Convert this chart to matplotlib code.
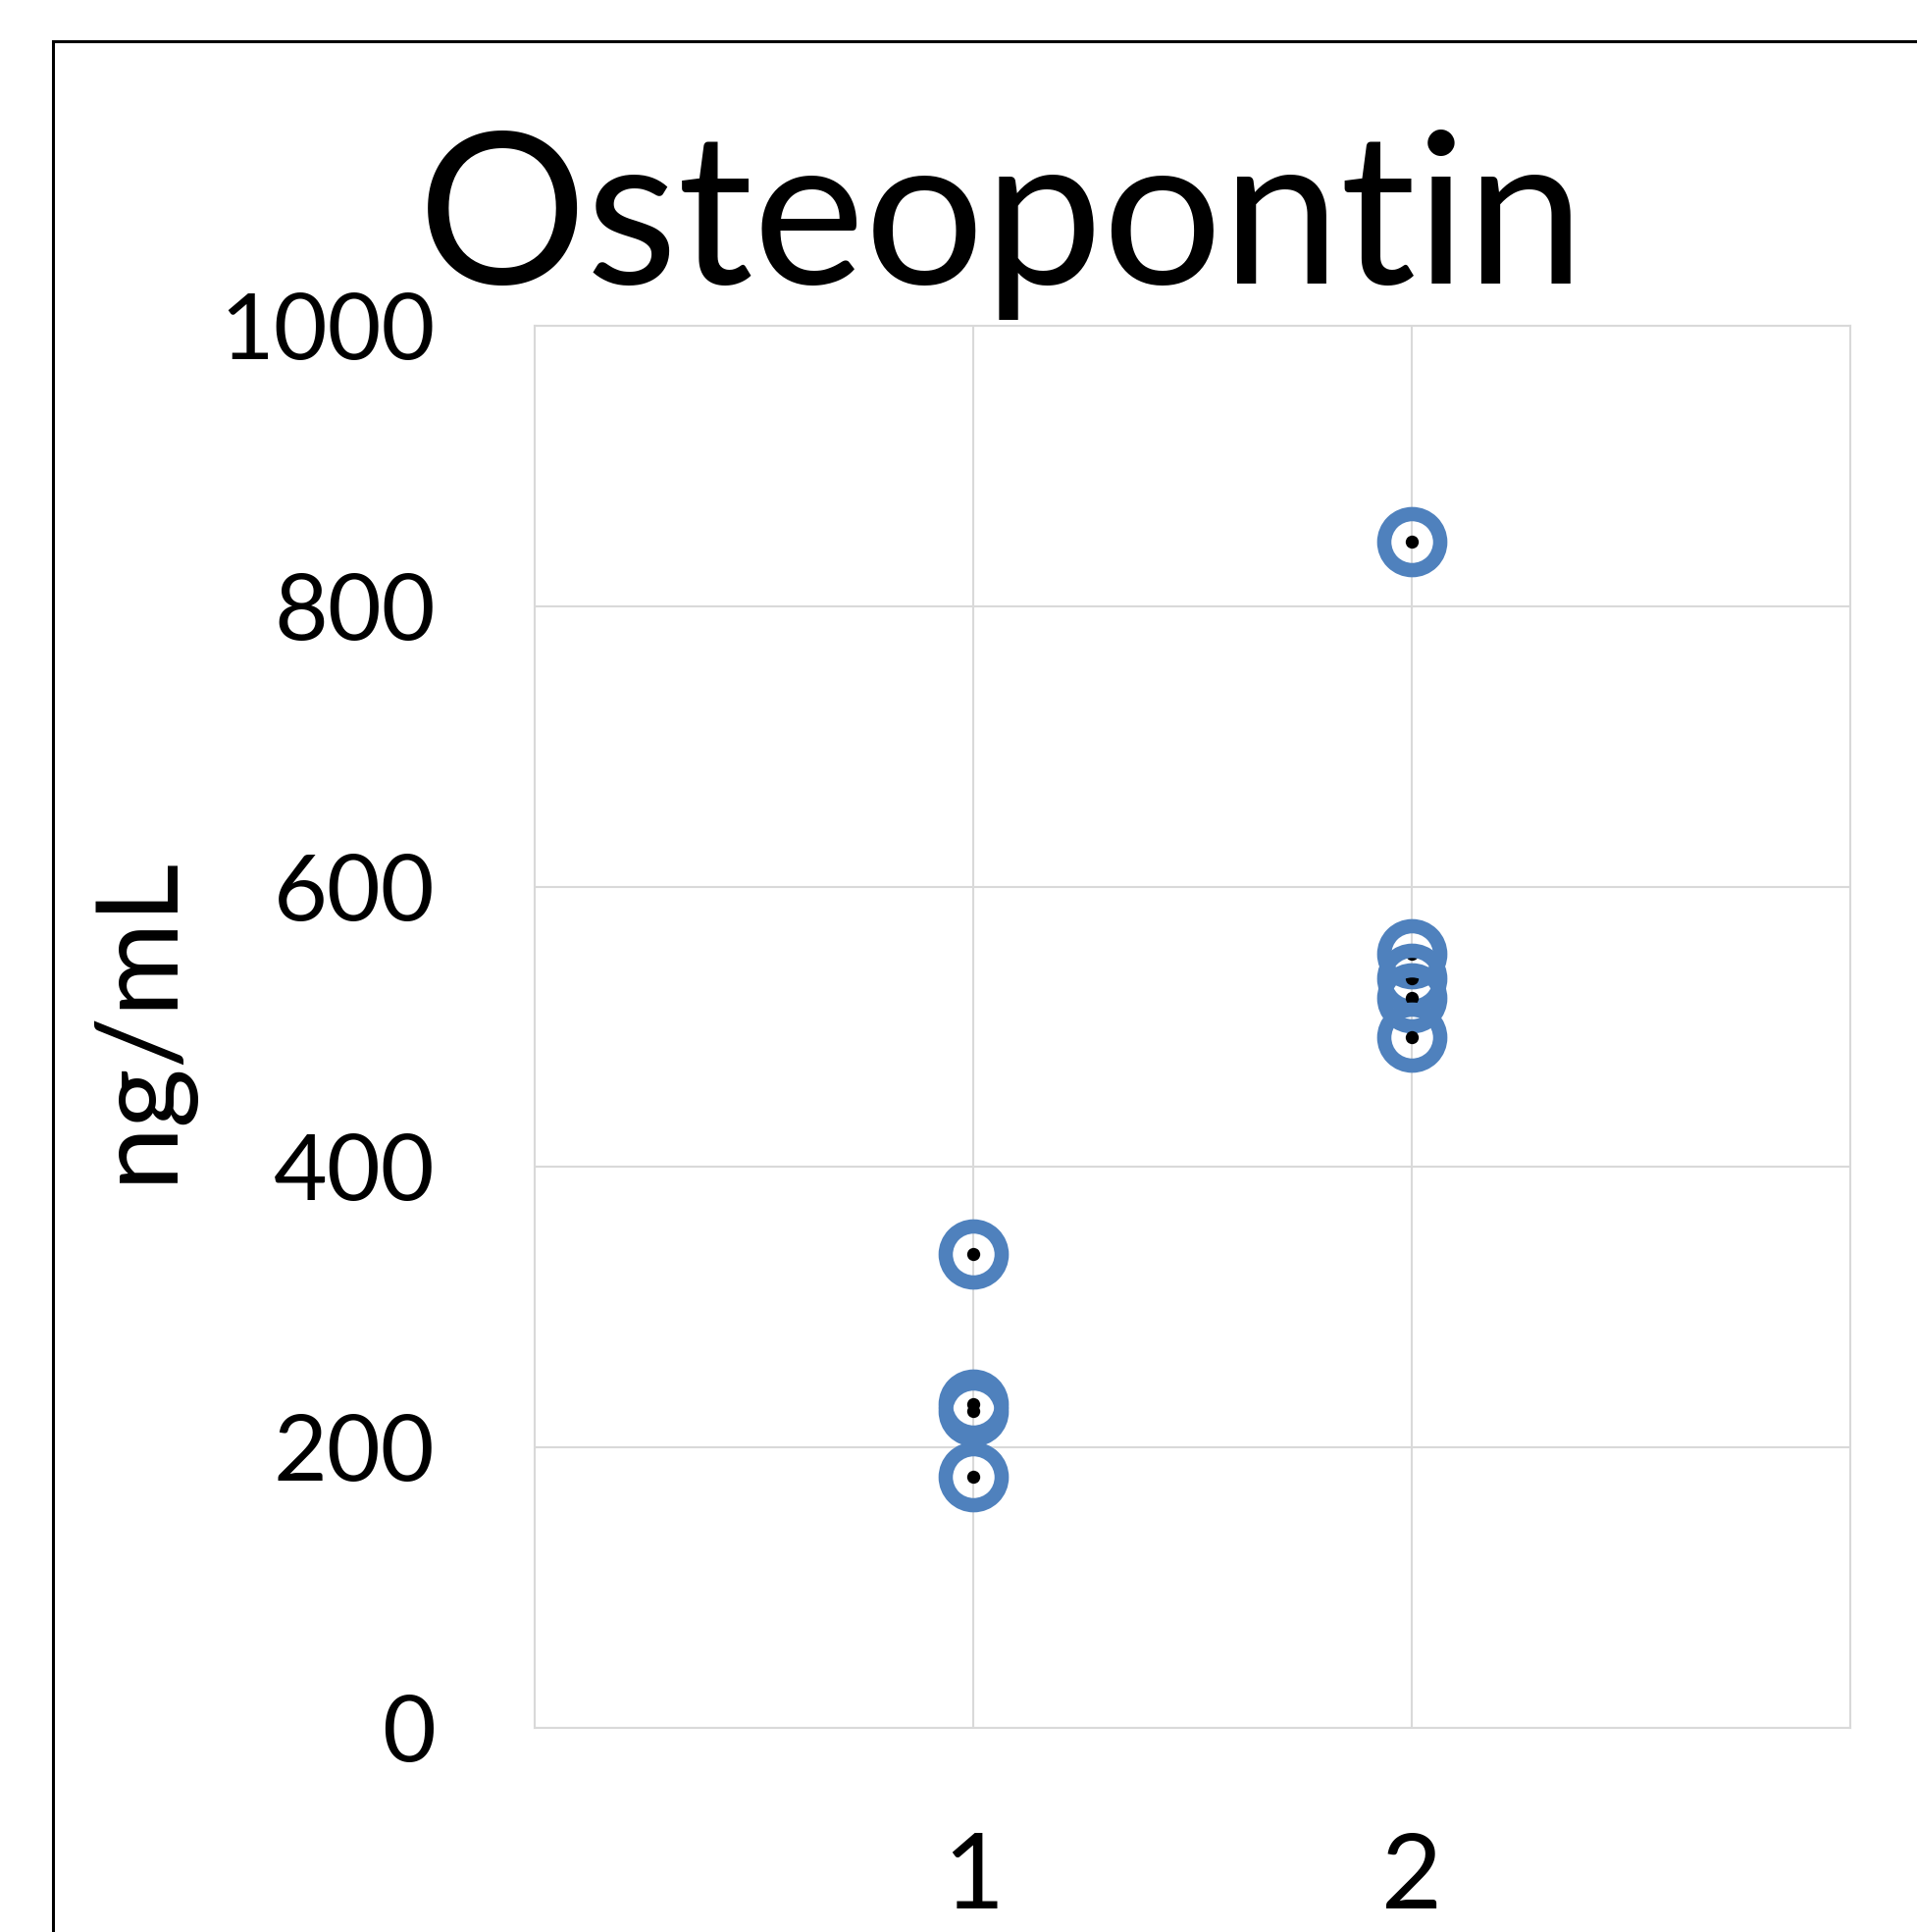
import matplotlib
matplotlib.use('Agg')
import matplotlib.pyplot as plt
from matplotlib.patches import Rectangle

# dados
grupos = [1, 2]
valores_g1 = [338, 231, 226, 179]
valores_g2 = [846, 552, 535, 521, 493]
ticks_y = [0, 200, 400, 600, 800, 1000]

azul = '#4F81BD'
cinza = '#D9D9D9'
fonte = 'Lato'

fig = plt.figure(figsize=(19.54, 19.69), dpi=100)
ax = fig.add_axes([0.2789, 0.1056, 0.6863, 0.7258])

# moldura do gráfico (cortada à direita e em baixo)
fig.add_artist(Rectangle((0.0276, -0.5), 2.0, 0.9787 + 0.5, transform=fig.transFigure,
                         fill=False, edgecolor='black', linewidth=2.2))

# pontos: anel azul sem preenchimento + ponto preto no centro, um a um
z = 3
for x, vals in zip(grupos, [valores_g1, valores_g2]):
    for v in vals:
        ax.plot([x], [v], marker='o', markersize=41.1, markerfacecolor='none',
                markeredgecolor=azul, markeredgewidth=10.5, linestyle='none', zorder=z)
        ax.plot([x], [v], marker='o', markersize=9.6, color='black',
                markeredgewidth=0, linestyle='none', zorder=z + 1)
        z += 2

ax.set_xlim(0, 3)
ax.set_ylim(0, 1000)
ax.set_xticks(grupos)
ax.set_xticks([0, 3], minor=True)
ax.set_yticks(ticks_y)
ax.set_xticklabels([str(g) for g in grupos], fontsize=77, family=fonte)
ax.set_yticklabels([str(t) for t in ticks_y], fontsize=68, family=fonte)
ax.tick_params(axis='both', which='both', length=0)
ax.tick_params(axis='y', pad=73)
ax.tick_params(axis='x', pad=76)

ax.grid(True, which='both', color=cinza, linewidth=1.5, zorder=0)
ax.set_axisbelow(True)
for s in ax.spines.values():
    s.set_color(cinza)
    s.set_linewidth(1.5)

ax.set_ylabel('ng/mL', fontsize=84, family=fonte, va='center')
ax.yaxis.set_label_coords(-0.301, 0.506)

fig.text(0.5226, 0.8532, 'Osteopontin', ha='center', va='baseline',
         fontsize=155, family=fonte)

fig.savefig('out.png', dpi=100)
